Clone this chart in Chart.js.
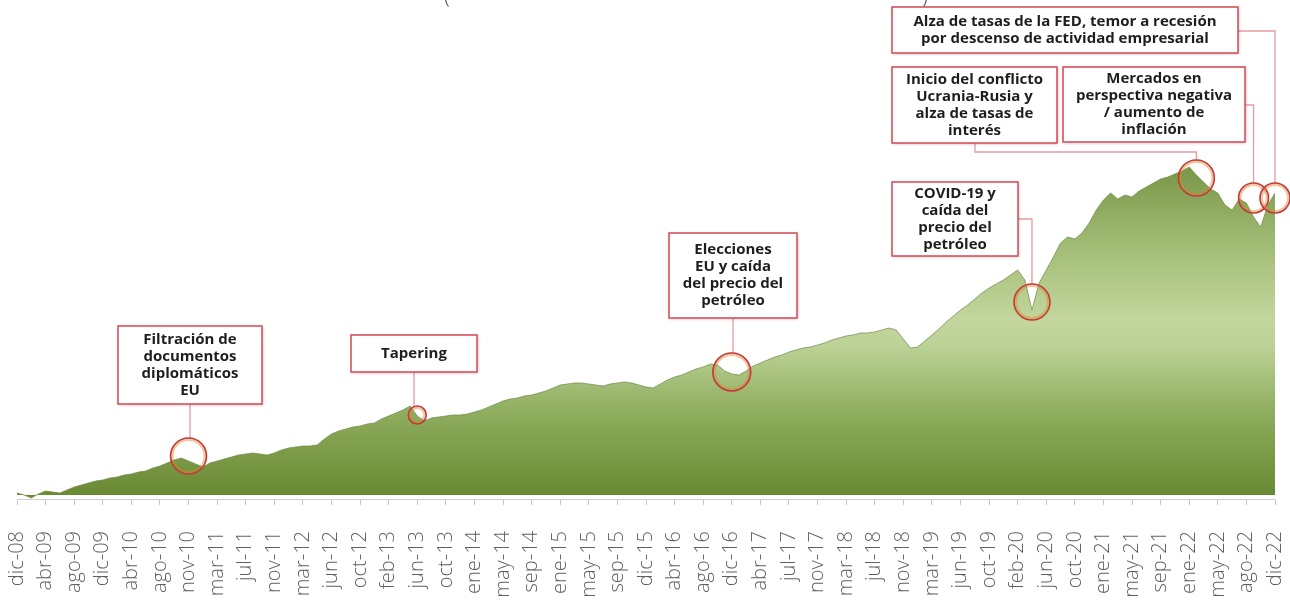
<!DOCTYPE html>
<html>
<head>
<meta charset="utf-8">
<script src="https://cdn.jsdelivr.net/npm/chart.js@4.4.1/dist/chart.umd.min.js"></script>
<style>
  html, body { margin: 0; padding: 0; background: #fff; }
  #wrap { width: 1290px; height: 602px; position: relative; }
</style>
</head>
<body>
<div id="wrap"><canvas id="chart"></canvas></div>
<script>
// Tick labels (one every 4 points on the axis)
const tickLabels = ['dic-08','abr-09','ago-09','dic-09','abr-10','ago-10','nov-10','mar-11','jul-11','nov-11',
  'mar-12','jun-12','oct-12','feb-13','jun-13','oct-13','ene-14','may-14','sep-14','ene-15',
  'may-15','sep-15','dic-15','abr-16','ago-16','dic-16','abr-17','jul-17','nov-17','mar-18',
  'jul-18','nov-18','mar-19','jun-19','oct-19','feb-20','jun-20','oct-20','ene-21','may-21',
  'sep-21','ene-22','may-22','ago-22','dic-22'];

// Index level (arbitrary units)
const indexValues = [2,0,-3,1,4,3,2,5,8,10,
  12,14,15,17,18,20,21,23,24,27,
  29,32,35,37,34,31,28,32,34,36,
  38,40,41,42,41,40,42,45,47,48,
  49,49,50,56,61,64,66,68,69,71,
  72,76,79,82,85,89,79,74,77,78,
  79,80,80,81,83,85,88,91,94,96,
  97,99,100,102,104,107,110,111,112,112,
  111,110,109,111,112,113,112,110,108,107,
  111,115,118,120,123,126,128,131,130,124,
  121,120,124,129,132,135,138,140,143,145,
  147,148,150,152,155,157,159,160,162,162,
  163,165,167,165,156,147,148,154,160,166,
  173,179,185,190,196,202,207,211,215,220,
  225,215,185,212,225,238,252,258,256,262,
  272,285,295,302,296,300,298,304,308,312,
  316,318,321,324,328,320,313,306,302,290,
  285,296,292,278,268,290,302];

const pointsPerTick = 4;
const pointLabels = indexValues.map((v, i) => i % pointsPerTick === 0 ? tickLabels[i / pointsPerTick] : '');

// Event callouts: data index of the event + box layout
const events = [
  { lines: ['Filtración de', 'documentos', 'diplomáticos', 'EU'], idx: 24, dy: -5, r: 18, box: [118, 326, 144, 78], path: [[190, 404]] },
  { lines: ['Tapering'], idx: 56, dy: -1, r: 9, box: [351, 335, 126, 37], path: [[414, 372]] },
  { lines: ['Elecciones', 'EU y caída', 'del precio del', 'petróleo'], idx: 100, dy: -2, r: 19, box: [669, 233, 128, 85], path: [[733, 318]] },
  { lines: ['COVID-19 y', 'caída del', 'precio del', 'petróleo'], idx: 142, dy: -8, r: 18, box: [892, 182, 126, 74], path: [[1018, 219], [null, 219]] },
  { lines: ['Inicio del conflicto', 'Ucrania-Rusia y', 'alza de tasas de', 'interés'], idx: 165, dy: 3, r: 18, box: [892, 67, 165, 76], path: [[975, 143], [975, 152], [null, 152]] },
  { lines: ['Mercados en', 'perspectiva negativa', '/ aumento de', 'inflación'], idx: 173, dy: -19, r: 15, box: [1063, 67, 182, 75], path: [[1245, 105], [null, 105]] },
  { lines: ['Alza de tasas de la FED, temor a recesión', 'por descenso de actividad empresarial'], idx: 176, dy: 5, r: 15, box: [892, 7, 346, 46], path: [[1238, 31], [null, 31]] }
];

function areaGradient(context) {
  const chart = context.chart;
  const { ctx, chartArea, scales } = chart;
  if (!chartArea) return '#8fae5f';
  const y0 = scales.y.getPixelForValue(0);
  const y1 = scales.y.getPixelForValue(330);
  const g = ctx.createLinearGradient(0, y0, 0, y1);
  g.addColorStop(0, '#6a8933');
  g.addColorStop(80 / 330, '#8dac5c');
  g.addColorStop(150 / 330, '#bcd297');
  g.addColorStop(175 / 330, '#c3d69d');
  g.addColorStop(240 / 330, '#a6c07b');
  g.addColorStop(1, '#789646');
  return g;
}

const calloutPlugin = {
  id: 'callouts',
  afterDatasetsDraw(chart) {
    const { ctx, scales } = chart;
    ctx.save();
    // title remnant
    ctx.fillStyle = '#333';
    ctx.font = '300 20px "Open Sans"';
    ctx.textAlign = 'center';
    ctx.textBaseline = 'alphabetic';
    ctx.fillText('(', 447, 4);
    ctx.fillText(')', 925, 4);

    events.forEach(ev => {
      const cx = scales.x.getPixelForValue(ev.idx);
      const cy = scales.y.getPixelForValue(indexValues[ev.idx]) + ev.dy;
      // connector
      ctx.strokeStyle = '#e79aa2';
      ctx.lineWidth = 1.3;
      ctx.beginPath();
      ev.path.forEach((p, i) => {
        const px = p[0] === null ? cx : p[0];
        if (i === 0) ctx.moveTo(px, p[1]); else ctx.lineTo(px, p[1]);
      });
      const last = ev.path[ev.path.length - 1];
      if (ev.path.length === 1) ctx.lineTo(last[0], cy - ev.r);
      else ctx.lineTo(cx, cy - ev.r);
      ctx.stroke();
      // circle
      ctx.beginPath();
      ctx.arc(cx, cy, ev.r - 1.5, 0, Math.PI * 2);
      ctx.strokeStyle = 'rgba(220,130,50,0.45)';
      ctx.lineWidth = 3;
      ctx.stroke();
      ctx.beginPath();
      ctx.arc(cx, cy, ev.r, 0, Math.PI * 2);
      ctx.strokeStyle = '#c23b3c';
      ctx.lineWidth = 1.6;
      ctx.stroke();
      // box
      const [bx, by, bw, bh] = ev.box;
      ctx.save();
      ctx.shadowColor = 'rgba(0,0,0,0.25)';
      ctx.shadowBlur = 3;
      ctx.shadowOffsetX = 1;
      ctx.shadowOffsetY = 1;
      ctx.fillStyle = '#fff';
      ctx.fillRect(bx, by, bw, bh);
      ctx.restore();
      ctx.strokeStyle = '#d9505d';
      ctx.lineWidth = 1.6;
      ctx.strokeRect(bx, by, bw, bh);
      ctx.fillStyle = '#1e1e1e';
      ctx.font = 'bold 15px "Open Sans"';
      ctx.textAlign = 'center';
      ctx.textBaseline = 'middle';
      const lh = 17;
      const startY = by + bh / 2 - (ev.lines.length - 1) * lh / 2;
      ev.lines.forEach((t, i) => ctx.fillText(t, bx + bw / 2, startY + i * lh));
    });
    ctx.restore();
  }
};

new Chart(document.getElementById('chart'), {
  type: 'line',
  data: {
    labels: pointLabels,
    datasets: [{
      data: indexValues,
      fill: 'origin',
      backgroundColor: areaGradient,
      borderColor: 'rgba(110,135,70,0.7)',
      borderWidth: 1,
      pointRadius: 0,
      tension: 0
    }]
  },
  options: {
    responsive: true,
    maintainAspectRatio: false,
    animation: false,
    layout: { padding: { left: 17, right: 15, top: 100, bottom: 0 } },
    plugins: { legend: { display: false }, tooltip: { enabled: false } },
    scales: {
      x: {
        border: { display: true, color: '#d0d0d0' },
        grid: { drawOnChartArea: false, drawTicks: true, tickLength: 6, color: '#c8c8c8' },
        afterFit(scale) {
          scale.height = 103;
          scale.paddingLeft = 0;
          scale.paddingRight = 0;
        },
        ticks: {
          autoSkip: false,
          maxRotation: 90,
          minRotation: 90,
          padding: 26,
          color: '#5f5f5f',
          font: { family: 'Open Sans', size: 20, weight: '300' },
          callback: (v, i) => (i % pointsPerTick === 0 ? tickLabels[i / pointsPerTick] : null)
        }
      },
      y: { display: false, min: -4, max: 395 }
    }
  },
  plugins: [calloutPlugin]
});
</script>
</body>
</html>
